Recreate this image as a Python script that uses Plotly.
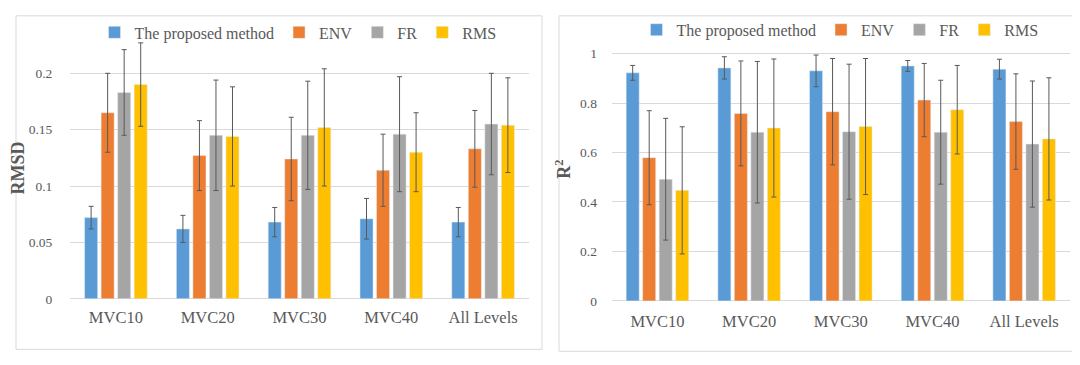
import plotly.graph_objects as go

categories = ["MVC10", "MVC20", "MVC30", "MVC40", "All Levels"]
series_names = ["The proposed method", "ENV", "FR", "RMS"]
colors = ["#5B9BD5", "#ED7D31", "#A5A5A5", "#FFC000"]

# RMSD (left chart)
rmsd_proposed = [0.072, 0.062, 0.068, 0.071, 0.068]
rmsd_env = [0.165, 0.127, 0.124, 0.114, 0.133]
rmsd_fr = [0.183, 0.145, 0.145, 0.146, 0.155]
rmsd_rms = [0.190, 0.144, 0.152, 0.130, 0.154]
rmsd_proposed_err = [0.010, 0.012, 0.013, 0.018, 0.013]
rmsd_env_err = [0.035, 0.031, 0.037, 0.032, 0.034]
rmsd_fr_err = [0.038, 0.049, 0.048, 0.051, 0.045]
rmsd_rms_err = [0.037, 0.044, 0.052, 0.035, 0.042]

# R^2 (right chart)
r2_proposed = [0.922, 0.942, 0.930, 0.950, 0.937]
r2_env = [0.579, 0.758, 0.765, 0.812, 0.725]
r2_fr = [0.492, 0.682, 0.684, 0.682, 0.634]
r2_rms = [0.447, 0.699, 0.705, 0.773, 0.655]
r2_proposed_err = [0.030, 0.045, 0.064, 0.022, 0.040]
r2_env_err = [0.190, 0.212, 0.215, 0.148, 0.193]
r2_fr_err = [0.246, 0.286, 0.273, 0.210, 0.255]
r2_rms_err = [0.257, 0.279, 0.275, 0.179, 0.247]

left_vals = [rmsd_proposed, rmsd_env, rmsd_fr, rmsd_rms]
left_errs = [rmsd_proposed_err, rmsd_env_err, rmsd_fr_err, rmsd_rms_err]
right_vals = [r2_proposed, r2_env, r2_fr, r2_rms]
right_errs = [r2_proposed_err, r2_env_err, r2_fr_err, r2_rms_err]

W, H = 1080, 365
SERIF = "Liberation Serif"
TXT = "#595959"

fig = go.Figure()

for i, name in enumerate(series_names):
    fig.add_trace(go.Bar(
        x=categories, y=left_vals[i], name=name, marker_color=colors[i],
        error_y=dict(type="data", array=left_errs[i], color="#595959", thickness=1, width=2.5),
        xaxis="x", yaxis="y", legend="legend",
    ))
for i, name in enumerate(series_names):
    fig.add_trace(go.Bar(
        x=categories, y=right_vals[i], name=name, marker_color=colors[i],
        error_y=dict(type="data", array=right_errs[i], color="#595959", thickness=1, width=2.5),
        xaxis="x2", yaxis="y2", legend="legend2",
    ))

def px_x(p):
    return p / W

def px_y(p):
    return 1 - p / H

def xaxis_style(ticklen):
    return dict(
        showgrid=False, showline=False, zeroline=False,
        tickfont=dict(family=SERIF, size=16.5, color=TXT),
        ticks="outside", ticklen=ticklen, tickcolor="rgba(0,0,0,0)",
    )

def yaxis_style(ticklen):
    return dict(
        showgrid=True, gridcolor="#D9D9D9", gridwidth=1, zeroline=True,
        zerolinecolor="#D9D9D9", zerolinewidth=1, showline=False,
        tickfont=dict(family=SERIF, size=13.5, color=TXT),
        ticks="outside", ticklen=ticklen, tickcolor="rgba(0,0,0,0)",
    )

fig.update_layout(
    width=W, height=H,
    margin=dict(l=0, r=0, t=0, b=0),
    paper_bgcolor="white", plot_bgcolor="white",
    barmode="group", bargap=0.28, bargroupgap=0.21,
    font=dict(family=SERIF, color=TXT),
    xaxis=dict(domain=[px_x(62), px_x(521)], anchor="y", **xaxis_style(3)),
    yaxis=dict(domain=[px_y(297.3), px_y(30)], range=[0, 0.2319], dtick=0.05,
               tickformat="~g", anchor="x",
               title=dict(text="<b>RMSD</b>", font=dict(family=SERIF, size=18, color=TXT), standoff=2),
               **yaxis_style(14)),
    xaxis2=dict(domain=[px_x(603.6), px_x(1062)], anchor="y2", **xaxis_style(5)),
    yaxis2=dict(domain=[px_y(299.5), px_y(30)], range=[0, 1.0655], dtick=0.2,
                tickformat="~g", anchor="x2",
                title=dict(text="<b>R<sup>2</sup></b>", font=dict(family=SERIF, size=18, color=TXT), standoff=4),
                **yaxis_style(11)),
    legend=dict(orientation="h", x=px_x(290), xanchor="center", y=px_y(25), yanchor="middle",
                font=dict(family=SERIF, size=16, color=TXT), bgcolor="rgba(0,0,0,0)"),
    legend2=dict(orientation="h", x=px_x(832), xanchor="center", y=px_y(22.3), yanchor="middle",
                 font=dict(family=SERIF, size=16, color=TXT), bgcolor="rgba(0,0,0,0)"),
    shapes=[
        dict(type="rect", xref="paper", yref="paper", x0=px_x(8), x1=px_x(534), y0=px_y(349), y1=px_y(8),
             line=dict(color="#D9D9D9", width=1), fillcolor="rgba(0,0,0,0)", layer="below"),
        dict(type="rect", xref="paper", yref="paper", x0=px_x(551), x1=px_x(1075), y0=px_y(351), y1=px_y(8),
             line=dict(color="#D9D9D9", width=1), fillcolor="rgba(0,0,0,0)", layer="below"),
    ],
)

fig.write_html("out.html")
